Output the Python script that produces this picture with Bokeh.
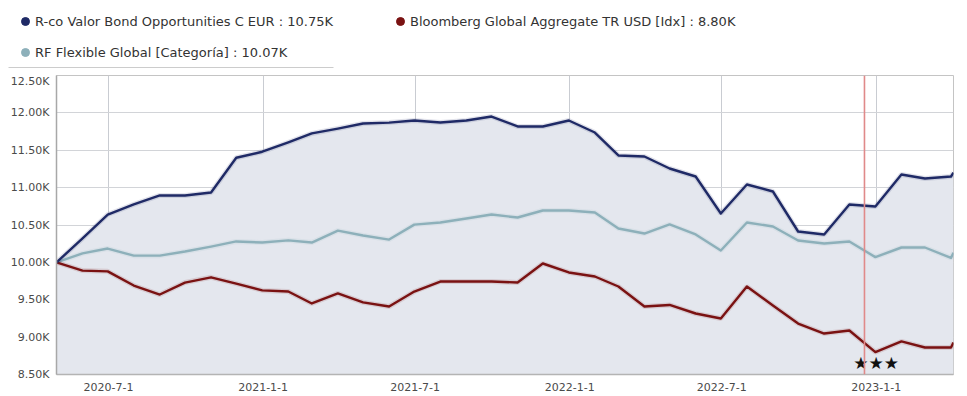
import pandas as pd
from bokeh.plotting import figure
from bokeh.models import (ColumnDataSource, FixedTicker, CustomJSTickFormatter, Span,
                          Legend, LegendItem, Range1d)
from bokeh.core.properties import value
from bokeh.embed import file_html
from bokeh.resources import INLINE

# ---------------- data ----------------
dates = ["2020-04-30", "2020-05-31", "2020-06-30", "2020-07-31", "2020-08-31", "2020-09-30",
         "2020-10-31", "2020-11-30", "2020-12-31", "2021-01-31", "2021-02-28", "2021-03-31",
         "2021-04-30", "2021-05-31", "2021-06-30", "2021-07-31", "2021-08-31", "2021-09-30",
         "2021-10-31", "2021-11-30", "2021-12-31", "2022-01-31", "2022-02-28", "2022-03-31",
         "2022-04-30", "2022-05-31", "2022-06-30", "2022-07-31", "2022-08-31", "2022-09-30",
         "2022-10-31", "2022-11-30", "2022-12-31", "2023-01-31", "2023-02-28", "2023-03-31",
         "2023-04-03"]
rco = [10000, 10320, 10640, 10775, 10895, 10895, 10935, 11400, 11480, 11605, 11725, 11790,
       11858, 11870, 11898, 11871, 11898, 11951, 11818, 11818, 11898, 11737, 11430, 11416,
       11256, 11149, 10654, 11042, 10948, 10413, 10373, 10774, 10747, 11176, 11122, 11149,
       11200]
bbg = [10000, 9890, 9880, 9690, 9570, 9730, 9800, 9715, 9625, 9610, 9450, 9585,
       9465, 9410, 9610, 9744, 9744, 9744, 9731, 9985, 9865, 9811, 9677, 9410,
       9430, 9316, 9249, 9677, 9423, 9182, 9048, 9089, 8800, 8942, 8861, 8861,
       8928]
rf = [10000, 10120, 10185, 10090, 10090, 10145, 10210, 10280, 10265, 10295, 10265, 10425,
      10360, 10305, 10505, 10533, 10587, 10640, 10600, 10694, 10694, 10667, 10453, 10386,
      10507, 10373, 10159, 10533, 10480, 10293, 10253, 10279, 10070, 10199, 10199, 10060,
      10130]

series_names = ["R-co Valor Bond Opportunities C EUR",
                "Bloomberg Global Aggregate TR USD [Idx]",
                "RF Flexible Global [Categoría]"]
y_ticks = [8500, 9000, 9500, 10000, 10500, 11000, 11500, 12000, 12500]
x_ticks = ["2020-07-01", "2021-01-01", "2021-07-01", "2022-01-01", "2022-07-01", "2023-01-01"]
legend_date = "2022-12-31"
marker_date = "2022-12-18"
rating_date = "2023-01-01"
rating_level = 8660
rating_text = "★★★"

# ---------------- styles ----------------
C_RCO = "#1f2a66"
C_BBG = "#7a1212"
C_RF = "#8db0ba"
C_FILL = "#e4e7ee"
FONT = "DejaVu Sans"
W = 967
LEG_H = 74

dt = pd.to_datetime(dates)
src = ColumnDataSource(dict(date=dt, rco=rco, bbg=bbg, rf=rf))


def ms(d):
    return pd.Timestamp(d).value // 10**6


# ---------------- legend strip ----------------
lg = figure(width=W, height=LEG_H, x_range=Range1d(0, W), y_range=Range1d(LEG_H, 0),
            output_backend="svg", toolbar_location=None, min_border=0,
            x_axis_location=None, y_axis_location=None, outline_line_color=None,
            background_fill_color="white", border_fill_color="white")
lg.xgrid.visible = False
lg.ygrid.visible = False
# thin rule under the legend
lg.segment(x0=[8], y0=[67], x1=[333], y1=[67], line_color="#cccccc", line_width=1)

idx = dates.index(legend_date)
items = []
for name, vals, color in zip(series_names, (rco, bbg, rf), (C_RCO, C_BBG, C_RF)):
    r = lg.scatter(x=[float("nan")], y=[float("nan")], marker="circle",
                   fill_color=color, line_color=color)
    items.append(LegendItem(label=f"{name} : {vals[idx] / 1000:.2f}K", renderers=[r]))

legend = Legend(items=items, orientation="horizontal", ncols=2, location=(15, 11.5),
                padding=0, margin=0, spacing=10, glyph_width=20, glyph_height=20,
                label_standoff=0, label_width=345, label_height=21,
                border_line_color=None, background_fill_alpha=0,
                label_text_font=FONT, label_text_font_size="13px",
                label_text_color="#333333")
lg.add_layout(legend, "center")

# ---------------- main chart ----------------
p = figure(frame_width=897, frame_height=299, x_axis_type="datetime",
           x_range=Range1d(dt[0], dt[-1]), y_range=Range1d(y_ticks[0], y_ticks[-1]),
           output_backend="svg", toolbar_location=None,
           min_border_left=56, min_border_right=14, min_border_top=1, min_border_bottom=22,
           background_fill_color="white", border_fill_color="white",
           outline_line_color="#c4c4c4")

p.varea(x="date", y1=y_ticks[0], y2="rco", source=src, fill_color=C_FILL, fill_alpha=1.0)

xt = FixedTicker(ticks=[ms(d) for d in x_ticks])
yt = FixedTicker(ticks=y_ticks)
p.xaxis.ticker = xt
p.yaxis.ticker = yt
p.xgrid.ticker = xt
p.ygrid.ticker = yt
p.xgrid.grid_line_color = "#c9ccd2"
p.ygrid.grid_line_color = "#d2d4d8"

for col, color in (("rf", C_RF), ("bbg", C_BBG), ("rco", C_RCO)):
    p.line(x="date", y=col, source=src, line_color=color, line_width=5, line_alpha=0.13)
    p.line(x="date", y=col, source=src, line_color=color, line_width=2.4, line_join="round")

p.add_layout(Span(location=ms(marker_date), dimension="height", line_color="#e08a8a",
                  line_width=1.6))
p.text(x=[pd.Timestamp(rating_date)], y=[rating_level], text=[rating_text],
       text_align="center", text_baseline="middle", text_color="#111111",
       text_font=value(FONT), text_font_size="17px")

for ax in (p.xaxis[0], p.yaxis[0]):
    ax.major_tick_line_color = None
    ax.minor_tick_line_color = None
    ax.major_tick_out = 0
    ax.major_tick_in = 0
    ax.major_label_text_font = FONT
    ax.major_label_text_font_size = "11px"
    ax.major_label_text_color = "#4a4a4a"
p.xaxis.axis_line_color = "#b4b4b4"
p.xaxis.axis_line_width = 1.5
p.yaxis.axis_line_color = "#a8a8a8"
p.yaxis.axis_line_width = 1.5
p.xaxis.major_label_standoff = 8
p.yaxis.major_label_standoff = 7
p.xaxis.formatter = CustomJSTickFormatter(code="""
const d = new Date(tick);
return d.getUTCFullYear() + "-" + (d.getUTCMonth() + 1) + "-" + d.getUTCDate();
""")
p.yaxis.formatter = CustomJSTickFormatter(code='return (tick / 1000).toFixed(2) + "K";')

open("out.html", "w").write(file_html([lg, p], INLINE))
